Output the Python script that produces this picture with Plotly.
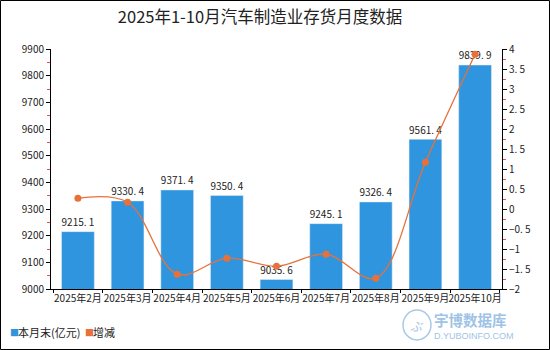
import plotly.graph_objects as go

months = ["2025年2月", "2025年3月", "2025年4月", "2025年5月", "2025年6月",
          "2025年7月", "2025年8月", "2025年9月", "2025年10月"]
stock = [9215.1, 9330.4, 9371.4, 9350.4, 9035.6, 9245.1, 9326.4, 9561.4, 9839.9]
change = [0.27, 0.17, -1.63, -1.23, -1.43, -1.13, -1.73, 1.17, 3.87]

left_ticks = [9000, 9100, 9200, 9300, 9400, 9500, 9600, 9700, 9800, 9900]
right_ticks = [-2, -1.5, -1, -0.5, 0, 0.5, 1, 1.5, 2, 2.5, 3, 3.5, 4]
series_names = ["本月末(亿元)", "增减"]

def fmt_num(v):
    s = f"{v:.1f}" if v != int(v) else f"{int(v)}"
    return s.replace(".", ". ").replace("-", "−")

right_text = [fmt_num(v) for v in right_ticks]
left_text = [str(v) for v in left_ticks]
bar_text = [f"{v:.1f}".replace(".", ". ") for v in stock]

BLUE = "#2F95DE"
ORANGE = "#E8703A"
FONT = "Noto Sans CJK SC"

W, H = 550, 350
ml, mr, mt, mb = 51, 48, 49, 61
pw, ph = W - ml - mr, H - mt - mb

def px2x(px):
    return (px - ml) / pw

def px2y(py):
    return (H - mb - py) / ph

fig = go.Figure()
fig.add_trace(go.Bar(
    x=months, y=stock, name=series_names[0], marker_color=BLUE,
    text=bar_text, textposition="outside", cliponaxis=False,
    textfont=dict(size=11, color="#222"), yaxis="y", showlegend=False,
))
fig.add_trace(go.Scatter(
    x=months, y=change, name=series_names[1], mode="lines+markers",
    line=dict(color=ORANGE, width=1.3, shape="spline", smoothing=1.0),
    marker=dict(color=ORANGE, size=7), yaxis="y2", showlegend=False,
    cliponaxis=False,
))

fig.update_layout(
    width=W, height=H,
    margin=dict(l=ml, r=mr, t=mt, b=mb),
    paper_bgcolor="white", plot_bgcolor="white",
    font=dict(family=FONT, size=11, color="#222"),
    title=dict(text="2025年1-10月汽车制造业存货月度数据", x=260 / W, xanchor="center",
               y=1 - 17 / H, yanchor="middle", font=dict(size=16.5, color="#222")),
    bargap=0.34,
    showlegend=False,
    xaxis=dict(type="category", showline=True, linecolor="black", linewidth=1,
               ticks="outside", tickson="boundaries", ticklen=3, tickcolor="black",
               tickangle=0, tickfont=dict(size=10), showgrid=False),
    yaxis=dict(range=[9000, 9900], tickvals=left_ticks, ticktext=left_text,
               showline=True, linecolor="black",
               linewidth=1, ticks="outside", ticklen=4, tickcolor="black", showgrid=False,
               zeroline=False, tickfont=dict(size=10),
               minor=dict(dtick=50, ticks="outside", ticklen=3, tickcolor="#E05050",
                          showgrid=False)),
    yaxis2=dict(range=[-2, 4], overlaying="y", side="right", tickvals=right_ticks,
                ticktext=right_text, showline=True, linecolor="black", linewidth=1,
                ticks="outside", ticklen=4, tickcolor="black", showgrid=False,
                zeroline=False, tickfont=dict(size=10),
                minor=dict(dtick=0.25, ticks="outside", ticklen=3, tickcolor="#E05050",
                           showgrid=False)),
)

def ann(xpx, ypx, text, font, xanchor="left"):
    fig.add_annotation(xref="paper", yref="paper", x=px2x(xpx), y=px2y(ypx),
                       xanchor=xanchor, yanchor="middle", text=text, showarrow=False,
                       font=font, borderpad=0)

# legend (manual)
ann(9, 332, "■", dict(size=9, color=BLUE))
ann(17, 332, series_names[0], dict(size=11, color="#222"))
ann(84, 332, "■", dict(size=9, color=ORANGE))
ann(92, 332, series_names[1], dict(size=11, color="#222"))

# outer border
fig.add_shape(type="rect", xref="paper", yref="paper",
              x0=px2x(0.5), x1=px2x(W - 0.5), y0=px2y(H - 0.5), y1=px2y(0.5),
              line=dict(color="black", width=1), fillcolor="rgba(0,0,0,0)", layer="above")

# watermark
fig.add_shape(type="circle", xref="paper", yref="paper",
              x0=px2x(403), x1=px2x(431), y0=px2y(340), y1=px2y(310),
              line=dict(color="#A8C8E8", width=1.5))
ann(417, 325, "<i>ぶ</i>", dict(size=12, color="#A8C8E8"), xanchor="center")
ann(433, 319, "<b>宇博数据库</b>", dict(size=14.5, color="#9EC3E6"))
ann(433, 336, "D.YUBOINFO.COM", dict(size=9, color="#9EC3E6", family="Liberation Sans"))

fig.write_html("out.html")
